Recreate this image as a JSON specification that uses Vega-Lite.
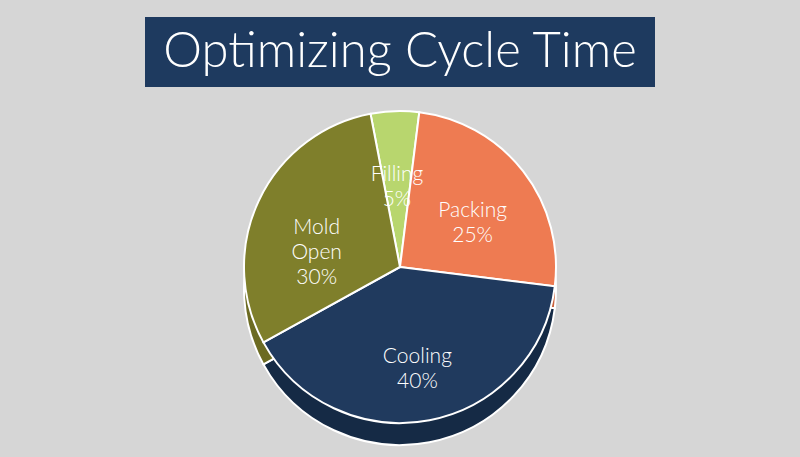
{
  "$schema": "https://vega.github.io/schema/vega-lite/v6.json",
  "padding": {"left": 145, "right": 145, "top": 17, "bottom": 16},
  "background": "#d6d6d6",
  "spacing": 20,
  "datasets": {
    "slices": [
      {"name": "Filling", "label": "Filling\n5%", "share": 5, "order": 1},
      {"name": "Packing", "label": "Packing\n25%", "share": 25, "order": 2},
      {"name": "Cooling", "label": "Cooling\n40%", "share": 40, "order": 3},
      {"name": "Mold Open", "label": "Mold\nOpen\n30%", "share": 30, "order": 4}
    ]
  },
  "vconcat": [
    {
      "width": 510,
      "height": 70,
      "view": {"fill": "#1e3a5f", "stroke": null},
      "data": {"values": [{"title": "Optimizing Cycle Time"}]},
      "mark": {"type": "text", "font": "Lato", "fontSize": 49, "fontWeight": 300, "color": "white", "baseline": "middle", "align": "center"},
      "encoding": {"text": {"field": "title", "type": "nominal"}}
    },
    {
      "width": 510,
      "height": 312,
      "view": {"stroke": null},
      "data": {"name": "slices"},
      "encoding": {
        "theta": {"field": "share", "type": "quantitative", "stack": true, "scale": {"range": [-0.19, 6.093]}},
        "order": {"field": "order", "type": "ordinal"}
      },
      "layer": [
        {
          "mark": {"type": "arc", "outerRadius": 156, "yOffset": 22, "stroke": "white", "strokeWidth": 2},
          "encoding": {
            "fill": {"field": "name", "type": "nominal", "legend": null,
              "scale": {"domain": ["Filling", "Packing", "Cooling", "Mold Open"], "range": ["#9cb85a", "#c9613c", "#152a45", "#6c6b22"]}}
          }
        },
        {
          "mark": {"type": "arc", "outerRadius": 156, "stroke": "white", "strokeWidth": 2},
          "encoding": {
            "color": {"field": "name", "type": "nominal", "legend": null,
              "scale": {"domain": ["Filling", "Packing", "Cooling", "Mold Open"], "range": ["#b8d66e", "#ee7b52", "#203a5e", "#7f7f2b"]}}
          }
        },
        {
          "mark": {"type": "text", "font": "Lato", "fontSize": 21, "fontWeight": 300, "color": "white", "lineBreak": "\n", "lineHeight": 25, "align": "center", "baseline": "middle"},
          "encoding": {
            "text": {"field": "label", "type": "nominal"},
            "radius": {"condition": {"test": "datum.name === 'Filling'", "value": 122}, "value": 92}
          }
        }
      ]
    }
  ]
}
